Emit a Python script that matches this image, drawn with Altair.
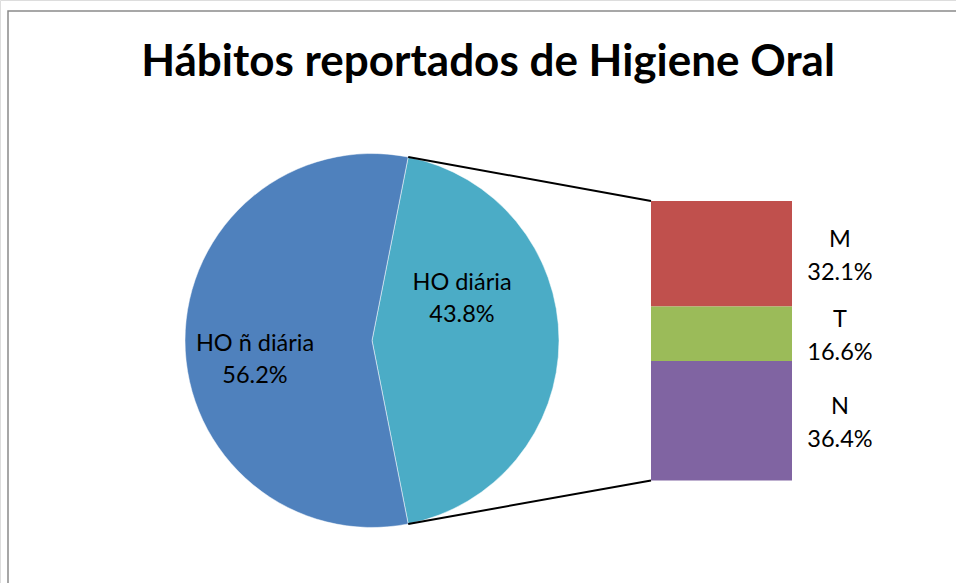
import math
import altair as alt
import pandas as pd

# ---------------- data ----------------
title_text = "Hábitos reportados de Higiene Oral"
pie_labels = ["HO diária", "HO ñ diária"]
pie_values = [43.8, 56.2]
bar_labels = ["M", "T", "N"]
bar_values = [32.1, 16.6, 36.4]
color_domain = ["HO ñ diária", "HO diária", "M", "T", "N"]
color_range = ["#4F81BD", "#4BACC6", "#C0504D", "#9BBB59", "#8064A2"]

# ---------------- layout ----------------
W, H = 956, 583
CX, CY, R = 372, 340.5, 187
BAR_X0, BAR_X1 = 651, 792
BAR_TOP, BAR_BOTTOM = 201, 480.5
BAR_LABEL_X = 840
LABEL_OFFSETS = {"HO diária": (90, -58), "HO ñ diária": (-117, 3)}
FONT = "Lato"
LABEL_SIZE = 23.5
LINE_H = 32

# exploded slice centred at 3 o'clock
share = pie_values[0] / sum(pie_values)
start = math.pi / 2 - math.pi * share

pie_df = pd.DataFrame({
    "label": pie_labels,
    "value": pie_values,
    "order": list(range(len(pie_labels))),
})
pie_df["text"] = [f"{l}\n{v:.1f}%" for l, v in zip(pie_labels, pie_values)]
pie_df["lx"] = [CX + LABEL_OFFSETS[l][0] for l in pie_labels]
pie_df["ly"] = [CY + LABEL_OFFSETS[l][1] for l in pie_labels]

bar_df = pd.DataFrame({
    "label": bar_labels,
    "value": bar_values,
    "rank": list(range(len(bar_labels)))[::-1],
})
bar_df["text"] = [f"{l}\n{v:.1f}%" for l, v in zip(bar_labels, bar_values)]

total_bar = sum(bar_values)
k = (BAR_BOTTOM - BAR_TOP) / total_bar
d0 = -(H - BAR_BOTTOM) / k
d1 = BAR_BOTTOM / k
yscale = alt.Scale(domain=[d0, d1], nice=False, zero=False)

a0 = start
a1 = start + 2 * math.pi * share
conn_df = pd.DataFrame({
    "x": [CX + R * math.sin(a0), CX + R * math.sin(a1)],
    "y": [CY - R * math.cos(a0), CY - R * math.cos(a1)],
    "x2": [BAR_X0, BAR_X0],
    "y2": [BAR_TOP, BAR_BOTTOM],
})

color = alt.Color("label:N", scale=alt.Scale(domain=color_domain, range=color_range), legend=None)

border = alt.Chart(pd.DataFrame({"a": [0]})).mark_rect(
    fill="transparent", stroke="#8a8a8a", strokeWidth=1.5
).encode(x=alt.value(8), y=alt.value(11), x2=alt.value(W + 30), y2=alt.value(H + 30))

pie = alt.Chart(pie_df).mark_arc(outerRadius=R, stroke="white", strokeWidth=0.5).encode(
    theta=alt.Theta("value:Q", stack=True,
                    scale=alt.Scale(range=[start, start + 2 * math.pi])),
    order=alt.Order("order:Q"),
    color=color,
    x=alt.value(CX),
    y=alt.value(CY),
)

pie_text = alt.Chart(pie_df).mark_text(
    font=FONT, fontSize=LABEL_SIZE, lineBreak="\n", lineHeight=LINE_H,
    align="center", baseline="middle", color="black"
).encode(
    x=alt.X("lx:Q", scale=None),
    y=alt.Y("ly:Q", scale=None),
    text="text:N",
)

bar_base = alt.Chart(bar_df).transform_stack(
    stack="value", groupby=[], as_=["v0", "v1"],
    sort=[alt.SortField("rank", order="ascending")]
).transform_calculate(mid="(datum.v0 + datum.v1) / 2")

bars = bar_base.mark_bar().encode(
    x=alt.value(BAR_X0), x2=alt.value(BAR_X1),
    y=alt.Y("v0:Q", scale=yscale, axis=None),
    y2="v1:Q",
    color=color,
)

bar_text = bar_base.mark_text(
    font=FONT, fontSize=LABEL_SIZE, lineBreak="\n", lineHeight=LINE_H + 1,
    align="center", baseline="middle", color="black", dy=-LINE_H / 2 + 2
).encode(
    x=alt.value(BAR_LABEL_X),
    y=alt.Y("mid:Q", scale=yscale, axis=None),
    text="text:N",
)

conn = alt.Chart(conn_df).mark_rule(color="black", strokeWidth=2).encode(
    x=alt.X("x:Q", scale=None), y=alt.Y("y:Q", scale=None),
    x2="x2:Q", y2="y2:Q",
)

chart = alt.layer(border, pie, conn, bars, pie_text, bar_text).resolve_scale(
    x="independent", y="independent"
).properties(
    width=W, height=H, padding=0, autosize="none",
    title=alt.Title(text=title_text, font=FONT, fontSize=44, fontWeight="bold",
                    color="black", anchor="middle", baseline="middle",
                    dy=107, dx=10, offset=0),
).configure_view(stroke=None).configure(font=FONT)

chart.save("out.html", embed_options={"renderer": "svg", "actions": False})
